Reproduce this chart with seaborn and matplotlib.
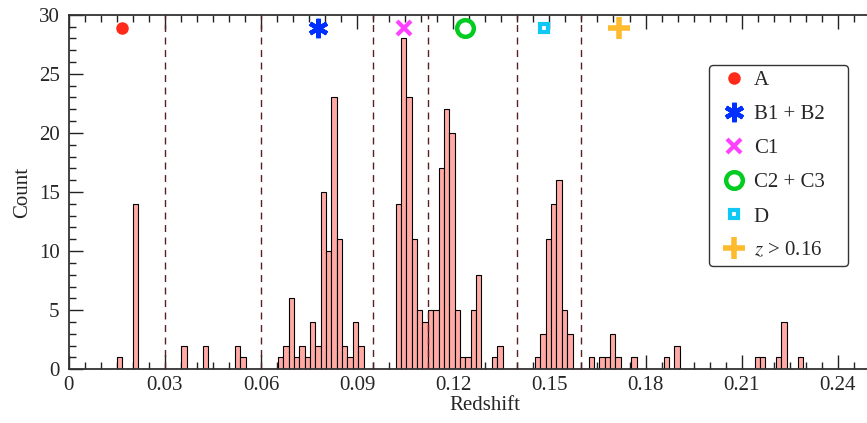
import numpy as np
import pandas as pd
import matplotlib
matplotlib.use("Agg")
import matplotlib.pyplot as plt
from matplotlib.ticker import MultipleLocator
import seaborn as sns

# ---- data ----
bin_lo = 0.01509          # left edge of first bin (redshift)
bin_width = 0.001672      # bin width (redshift)
bin_index = [0, 3, 12, 16, 22, 23, 30, 31, 32, 33, 34, 35, 36, 37, 38, 39, 40, 41,
             42, 43, 44, 45, 52, 53, 54, 55, 56, 57, 58, 59, 60, 61, 62, 63, 64, 65,
             66, 67, 70, 71, 78, 79, 80, 81, 82, 83, 84, 88, 90, 91, 92, 93, 96, 102,
             104, 119, 120, 123, 124, 127]
bin_count = [1, 14, 2, 2, 2, 1, 1, 2, 6, 1, 2, 1, 4, 2, 15, 10, 23, 11,
             2, 1, 4, 2, 14, 28, 23, 11, 5, 4, 5, 5, 17, 22, 20, 5, 1, 1,
             5, 8, 1, 2, 1, 3, 11, 14, 16, 5, 3, 1, 1, 1, 3, 1, 1, 1,
             2, 1, 1, 1, 4, 1]
n_bins = 128

boundaries = [0.03, 0.06, 0.095, 0.112, 0.14, 0.16]

group_names = ["A", "B1 + B2", "C1", "C2 + C3", "D", "$z$ > 0.16"]
group_z = [0.0165, 0.0778, 0.1047, 0.1236, 0.1484, 0.1716]
group_y = 28.9

x_ticks = [0, 0.03, 0.06, 0.09, 0.12, 0.15, 0.18, 0.21, 0.24]
x_ticklabels = ["0", "0.03", "0.06", "0.09", "0.12", "0.15", "0.18", "0.21", "0.24"]

# ---- style ----
sns.set_theme(style="ticks")
plt.rcParams["font.family"] = ["Liberation Serif", "DejaVu Serif"]
plt.rcParams["mathtext.fontset"] = "stix"
FS = 15

fig = plt.figure(figsize=(8.67, 4.23), dpi=100)
# the axes run past the right edge of the picture (the reference is cropped there)
ax = fig.add_axes([0.0792, 0.127, 0.9611, 0.8382])

centers = bin_lo + bin_width * (np.array(bin_index) + 0.5)
df = pd.DataFrame({"z": centers, "n": bin_count})
sns.histplot(data=df, x="z", weights="n", binwidth=bin_width,
             binrange=(bin_lo, bin_lo + n_bins * bin_width), ax=ax,
             color="#ffaaa5", edgecolor="black", linewidth=0.8, alpha=1.0, zorder=2)

for b in boundaries:
    ax.axvline(b, color="#5a1e1e", lw=1.0, ls=(0, (5, 4)), zorder=3)

styles = [
    dict(marker="o", color="#ff2a1a", ms=8, mec="#ff2a1a"),
    dict(marker=(6, 2, 0), color="#0030ff", ms=14, mew=3.2),
    dict(marker="x", color="#ff40ff", ms=10, mew=3.0),
    dict(marker="o", color="#00cc22", ms=12, mew=3.2, mfc="none"),
    dict(marker="s", color="#10c8f5", ms=6, mew=3.0, mfc="white"),
    dict(marker="+", color="#ffbb30", ms=16, mew=4.0),
]
for name, zz, st in zip(group_names, group_z, styles):
    ax.plot([zz], [group_y], ls="none", label=name, zorder=4, **st)

ax.set_xlim(0, 0.26)
ax.set_ylim(0, 30)
ax.set_xticks(x_ticks)
ax.set_xticklabels(x_ticklabels)
ax.xaxis.set_minor_locator(MultipleLocator(0.005))
ax.yaxis.set_major_locator(MultipleLocator(5))
ax.yaxis.set_minor_locator(MultipleLocator(1))
ax.tick_params(which="both", direction="in", top=True, right=True, color="#222222",
               labelsize=FS)
ax.tick_params(axis="x", pad=4.5)
ax.tick_params(axis="y", pad=6.5)
ax.tick_params(which="major", length=10, width=1.0)
ax.tick_params(which="minor", length=5, width=1.0)
for s in ax.spines.values():
    s.set_color("#333333")
    s.set_linewidth(1.3)

ax.set_xlabel("Redshift", fontsize=FS, labelpad=1)
ax.set_ylabel("Count", fontsize=FS, labelpad=4.5)

leg = ax.legend(loc="upper left", bbox_to_anchor=(0.7684, 0.5, 0.1668, 0.358),
                mode="expand", fontsize=FS,
                frameon=True, fancybox=True, edgecolor="#333333", framealpha=1,
                labelspacing=0.70, handlelength=1.9, handletextpad=0.0,
                borderpad=0.25, borderaxespad=0.0, numpoints=1)
leg.get_frame().set_linewidth(1.0)

fig.savefig("out.png", dpi=100)
